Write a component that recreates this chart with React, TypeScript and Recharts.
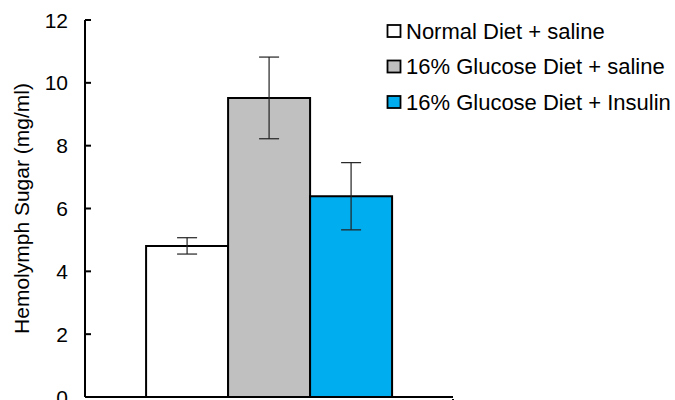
import React from 'react';
import { BarChart, Bar, XAxis, YAxis, ErrorBar, Legend } from 'recharts';

const seriesNames = ['Normal Diet + saline', '16% Glucose Diet + saline', '16% Glucose Diet + Insulin'];
const seriesKeys = ['normal', 'glucose', 'insulin'];
const means = [4.81, 9.52, 6.39];
const errors = [0.26, 1.3, 1.07];
const colors = ['#FFFFFF', '#C0C0C0', '#00ADEF'];
const yTicks = [0, 2, 4, 6, 8, 10, 12];
const categories = [''];

const data = categories.map((c) => {
  const row: any = { name: c };
  seriesKeys.forEach((k, i) => {
    row[k] = means[i];
    row[k + 'Err'] = errors[i];
  });
  return row;
});

const FONT = '"Liberation Sans", Arial, sans-serif';

const YTick = (props: any) => {
  const { x, y, payload } = props;
  return (
    <g>
      <line x1={x} x2={x + 6} y1={y} y2={y} stroke="#000" strokeWidth={2} />
      <text x={x - 17} y={y} dy="0.36em" textAnchor="end" fontSize={21} fontFamily={FONT} fill="#000">
        {payload.value}
      </text>
    </g>
  );
};

const XTick = (props: any) => {
  const { x, y, payload } = props;
  const off = payload && payload.offset != null ? payload.offset : 184;
  return (
    <g>
      <line x1={x + off} x2={x + off} y1={y} y2={y - 6} stroke="#000" strokeWidth={2} />
    </g>
  );
};

const LegendContent = (props: any) => {
  const payload = [...(props.payload || [])].sort(
    (a: any, b: any) => seriesNames.indexOf(a.value) - seriesNames.indexOf(b.value)
  );
  return (
    <svg width={295} height={120} style={{ display: 'block' }}>
      {payload.map((p: any, i: number) => {
        const cy = 31 + i * 35.5;
        return (
          <g key={i}>
            <rect x={7.5} y={cy - 6} width={13} height={12} fill={p.color} stroke="#000" strokeWidth={1.8} />
            <text x={26} y={cy} dy="0.36em" fontSize={22} fontFamily={FONT} fill="#000">
              {p.value}
            </text>
          </g>
        );
      })}
    </svg>
  );
};

export default function App() {
  return (
    <div style={{ position: 'absolute', left: 0, top: 0, width: 675, height: 400, background: '#fff' }}>
      <BarChart
        width={675}
        height={400}
        data={data}
        margin={{ top: 20, right: 222, bottom: 0, left: 0 }}
        barCategoryGap="16.6%"
        barGap={0}
      >
        <XAxis
          dataKey="name"
          height={3}
          axisLine={{ stroke: '#000', strokeWidth: 2 }}
          tickLine={false}
          tick={<XTick />}
          interval={0}
        />
        <YAxis
          width={85}
          domain={[0, 12]}
          ticks={yTicks}
          interval={0}
          tickSize={0}
          tickMargin={0}
          tickLine={false}
          axisLine={{ stroke: '#000', strokeWidth: 2 }}
          tick={<YTick />}
          label={{
            value: 'Hemolymph Sugar (mg/ml)',
            angle: -90,
            position: 'insideLeft',
            offset: 22,
            style: { textAnchor: 'middle', fontSize: 21, fontFamily: FONT, fill: '#000' },
          }}
        />
        {seriesKeys.map((k, i) => (
          <Bar
            key={k}
            dataKey={k}
            name={seriesNames[i]}
            fill={colors[i]}
            stroke="#000"
            strokeWidth={2}
            isAnimationActive={false}
          >
            <ErrorBar dataKey={k + 'Err'} width={10} stroke="#222" strokeWidth={1.2} direction="y" />
          </Bar>
        ))}
        <Legend
          layout="vertical"
          verticalAlign="middle"
          align="center"
          content={<LegendContent />}
          wrapperStyle={{ position: 'absolute', left: 380, top: 0, width: 295, height: 120 }}
        />
      </BarChart>
    </div>
  );
}
